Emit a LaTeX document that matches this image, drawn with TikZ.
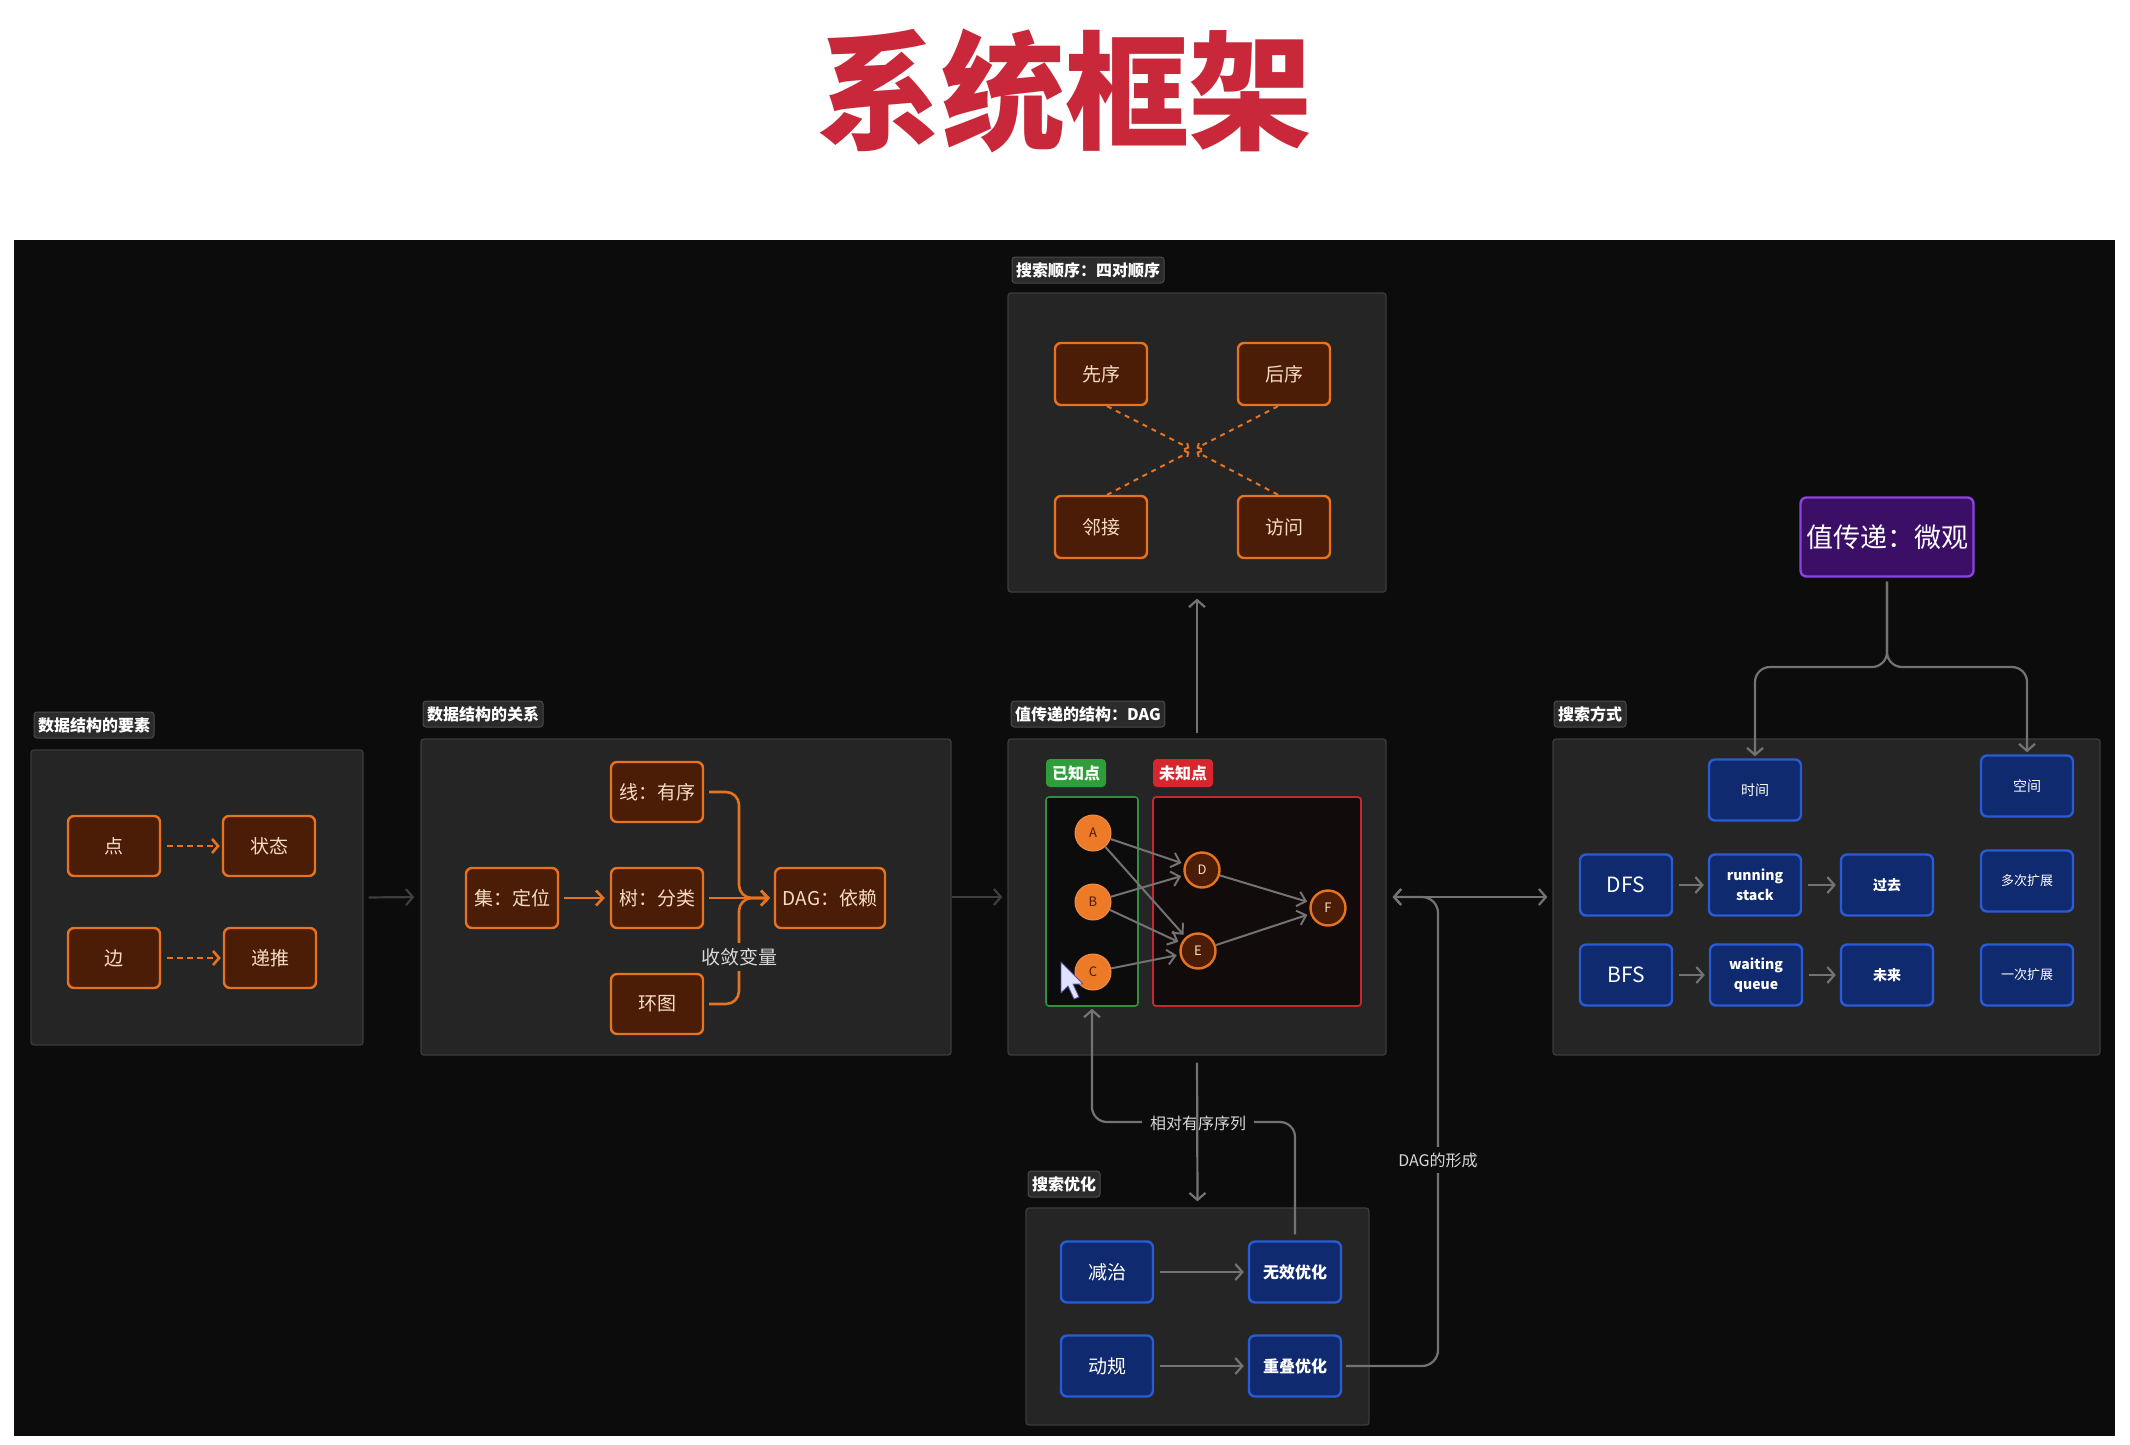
\documentclass[tikz,border=0pt]{standalone}
\usepackage{fontspec}
\setmainfont{Noto Sans CJK SC}
\usetikzlibrary{arrows.meta}
\newcommand\fsz[1]{\fontsize{#1}{#1}\selectfont}
\definecolor{bgblack}{HTML}{0C0C0C}
\definecolor{panelfill}{HTML}{252525}
\definecolor{panelline}{HTML}{3C3C3C}
\definecolor{tagfill}{HTML}{2B2B2B}
\definecolor{tagline}{HTML}{4A4A4A}
\definecolor{oline}{HTML}{E8731E}
\definecolor{ofill}{HTML}{4B1D07}
\definecolor{otext}{HTML}{F7DCC4}
\definecolor{bline}{HTML}{2A5BD7}
\definecolor{bfill}{HTML}{0F2A6E}
\definecolor{pline}{HTML}{8B44E0}
\definecolor{pfill}{HTML}{3B0F66}
\definecolor{conngray}{HTML}{737373}
\definecolor{dimgray}{HTML}{3E3E3E}
\definecolor{titlered}{HTML}{C9283A}
\definecolor{gbadge}{HTML}{2F9E3A}
\definecolor{rbadge}{HTML}{D6262E}
\definecolor{gframe}{HTML}{2F8F3F}
\definecolor{rframe}{HTML}{C9252F}
\definecolor{rboxfill}{HTML}{110B0B}
\definecolor{circfill}{HTML}{EC7A26}
\definecolor{labtext}{HTML}{D8D8D8}
\tikzset{
  panel/.style={draw=panelline, fill=panelfill, line width=1.3pt, rounded corners=3pt, inner sep=0pt},
  tag/.style={draw=tagline, fill=tagfill, text=white, font=\bfseries\fsz{16}, rounded corners=3pt, minimum height=26pt, inner xsep=4pt, inner ysep=2pt, line width=1pt},
  obox/.style={draw=oline, fill=ofill, text=otext, line width=2.4pt, rounded corners=6pt, minimum width=92pt, minimum height=60pt, inner sep=2pt, font=\fsz{19}},
  bbox/.style={draw=bline, fill=bfill, text=white, line width=2.4pt, rounded corners=6pt, minimum width=92pt, minimum height=61pt, inner sep=2pt, align=center},
  badge/.style={rounded corners=4pt, text=white, font=\bfseries\fsz{16}, minimum width=60pt, minimum height=28pt, inner sep=1pt},
  known/.style={circle, fill=circfill, draw=circfill!85!white, line width=1pt, minimum size=36pt, inner sep=0pt, text=ofill, font=\fsz{13}},
  unknown/.style={circle, fill=ofill, draw=oline, line width=2.4pt, minimum size=35pt, inner sep=0pt, text=otext, font=\fsz{13}},
  conn/.style={draw=conngray, line width=2.2pt, -{Straight Barb[length=7pt,width=16pt]}},
  dimconn/.style={draw=dimgray, line width=2.2pt, -{Straight Barb[length=7pt,width=16pt]}},
  oarrow/.style={draw=oline, line width=2.6pt, -{Straight Barb[length=7pt,width=15pt]}},
  odash/.style={draw=oline, line width=2.6pt, dash pattern=on 6pt off 4pt, -{Straight Barb[length=6pt,width=14pt]}},
  xdash/.style={draw=oline, line width=2pt, dash pattern=on 5pt off 5pt, -{Straight Barb[length=3pt,width=7pt]}},
  dagedge/.style={draw=conngray, line width=2pt, -{Straight Barb[length=8pt,width=15pt]}},
  elab/.style={text=labtext, inner xsep=8pt, inner ysep=3pt}
}
\begin{document}
\begin{tikzpicture}[x=1pt,y=-1pt]
\useasboundingbox (0,0) rectangle (2130,1444);
\fill[white] (0,0) rectangle (2130,1444);
\fill[bgblack] (14,240) rectangle (2115,1436);
\node[text=titlered, font=\bfseries\fsz{118}, xscale=1.05, yscale=1.08] (title) at (1065,91) {系统框架};

% ---------- group 1 ----------
\node[panel, minimum width=332pt, minimum height=295pt] (g1) at (197,897.5) {};
\node[tag] (g1t) at (94,725) {数据结构的要素};
\node[obox] (dian) at (114,846) {点};
\node[obox] (zhuangtai) at (269,846) {状态};
\node[obox] (bian) at (114,958) {边};
\node[obox] (ditui) at (270,958) {递推};
\draw[odash, shorten <=6pt, shorten >=2pt] (dian.east) -- (zhuangtai.west);
\draw[odash, shorten <=6pt, shorten >=2pt] (bian.east) -- (ditui.west);

% ---------- group 2 ----------
\node[panel, minimum width=530pt, minimum height=316pt] (g2) at (686,897) {};
\node[tag] (g2t) at (483,714) {数据结构的关系};
\node[obox] (xian) at (657,792) {线：有序};
\node[obox] (ji) at (512,898) {集：定位};
\node[obox] (shu) at (657,898) {树：分类};
\node[obox, minimum width=110pt] (dag) at (830,898) {DAG：依赖};
\node[obox] (huan) at (657,1004) {环图};
\draw[oarrow, shorten <=5pt, shorten >=5pt] (ji.east) -- (shu.west);
\draw[oarrow, shorten <=5pt, shorten >=4pt] (shu.east) -- (dag.west);
\draw[oarrow, rounded corners=13pt, shorten <=5pt, shorten >=4pt] (xian.east) -- (739,792) -- (739,898) -- (dag.west);
\draw[oarrow, rounded corners=13pt, shorten <=5pt, shorten >=4pt] (huan.east) -- (739,1004) -- (739,898) -- (dag.west);
\node[text=labtext, fill=panelfill, font=\fsz{19}, inner xsep=4pt, inner ysep=5pt] (shoulian) at (739,957) {收敛变量};

% ---------- group 4 ----------
\node[panel, minimum width=378pt, minimum height=299pt] (g4) at (1197,442.5) {};
\node[tag] (g4t) at (1088,270) {搜索顺序：四对顺序};
\node[obox, minimum height=62pt] (xianxu) at (1101,374) {先序};
\node[obox, minimum height=62pt] (houxu) at (1284,374) {后序};
\node[obox, minimum height=62pt] (linjie) at (1101,527) {邻接};
\node[obox, minimum height=62pt] (fangwen) at (1284,527) {访问};
\coordinate (xc) at (1193,450);
\draw[xdash, shorten >=4pt] ([xshift=6pt]xianxu.south) -- (xc);
\draw[xdash, shorten >=4pt] ([xshift=6pt]linjie.north) -- (xc);
\draw[xdash, shorten >=4pt] ([xshift=-6pt]houxu.south) -- (xc);
\draw[xdash, shorten >=4pt] ([xshift=-6pt]fangwen.north) -- (xc);

% ---------- group 3 ----------
\node[panel, minimum width=378pt, minimum height=316pt] (g3) at (1197,897) {};
\node[tag] (g3t) at (1088,714) {值传递的结构：DAG};
\node[badge, fill=gbadge] (kb) at (1076,773) {已知点};
\node[badge, fill=rbadge] (ub) at (1183,773) {未知点};
\node[draw=gframe, fill=bgblack, line width=1.6pt, rounded corners=3pt, minimum width=92pt, minimum height=209pt, inner sep=0pt] (kbox) at (1092,901.5) {};
\node[draw=rframe, fill=rboxfill, line width=1.8pt, rounded corners=3pt, minimum width=208pt, minimum height=209pt, inner sep=0pt] (ubox) at (1257,901.5) {};
\node[known] (A) at (1093,833) {A};
\node[known] (B) at (1093,902) {B};
\node[known] (C) at (1093,972) {C};
\node[unknown] (D) at (1202,870) {D};
\node[unknown] (E) at (1198,951) {E};
\node[unknown] (F) at (1328,908) {F};
\draw[dagedge, shorten >=3pt] (A) -- (D);
\draw[dagedge, shorten >=3pt] (A) -- (E);
\draw[dagedge, shorten >=3pt] (B) -- (D);
\draw[dagedge, shorten >=3pt] (B) -- (E);
\draw[dagedge, shorten >=3pt] (C) -- (E);
\draw[dagedge, shorten >=3pt] (D) -- (F);
\draw[dagedge, shorten >=3pt] (E) -- (F);
% mouse cursor
\draw[fill=white!88!blue, draw=blue!35!gray, line width=0.8pt, line join=round] (1061,962) -- (1061,993) -- (1068,986) -- (1074,999) -- (1079,997) -- (1073,984) -- (1083,984) -- cycle;

% ---------- group 5 ----------
\node[panel, minimum width=343pt, minimum height=217pt] (g5) at (1197.5,1316.5) {};
\node[tag] (g5t) at (1064,1184) {搜索优化};
\node[bbox, font=\fsz{19}] (jianzhi) at (1107,1272) {减治};
\node[bbox, font=\bfseries\fsz{16}] (wuxiao) at (1295,1272) {无效优化};
\node[bbox, font=\fsz{19}] (donggui) at (1107,1366) {动规};
\node[bbox, font=\bfseries\fsz{16}] (chongdie) at (1295,1366) {重叠优化};
\draw[conn, shorten <=6pt, shorten >=4pt] (jianzhi.east) -- (wuxiao.west);
\draw[conn, shorten <=6pt, shorten >=4pt] (donggui.east) -- (chongdie.west);

% ---------- group 6 ----------
\node[panel, minimum width=547pt, minimum height=316pt] (g6) at (1826.5,897) {};
\node[tag] (g6t) at (1590,714) {搜索方式};
\node[bbox, font=\fsz{14}] (shijian) at (1755,790) {时间};
\node[bbox, font=\fsz{14}] (kongjian) at (2027,786) {空间};
\node[bbox, font=\fsz{21}] (dfs) at (1626,885) {DFS};
\node[bbox, font=\bfseries\fontsize{14}{20}\selectfont] (rs) at (1755,885) {running\\stack};
\node[bbox, font=\bfseries\fsz{14}] (guoqu) at (1887,885) {过去};
\node[bbox, font=\fsz{13}] (duoci) at (2027,881) {多次扩展};
\node[bbox, font=\fsz{21}] (bfs) at (1626,975) {BFS};
\node[bbox, font=\bfseries\fontsize{14}{20}\selectfont] (wq) at (1756,975) {waiting\\queue};
\node[bbox, font=\bfseries\fsz{14}] (weilai) at (1887,975) {未来};
\node[bbox, font=\fsz{13}] (yici) at (2027,975) {一次扩展};
\draw[conn, shorten <=6pt, shorten >=4pt] (dfs.east) -- (rs.west);
\draw[conn, shorten <=6pt, shorten >=4pt] (rs.east) -- (guoqu.west);
\draw[conn, shorten <=6pt, shorten >=4pt] (bfs.east) -- (wq.west);
\draw[conn, shorten <=6pt, shorten >=4pt] (wq.east) -- (weilai.west);

% purple
\node[draw=pline, fill=pfill, text=white, line width=2.4pt, rounded corners=6pt, minimum width=173pt, minimum height=79pt, font=\fsz{27}] (micro) at (1887,537) {值传递：微观};
\draw[conn, rounded corners=15pt, shorten <=4pt, shorten >=2pt] (micro.south) -- (1887,667) -- (1755,667) -- (shijian.north);
\draw[conn, rounded corners=15pt, shorten <=4pt, shorten >=2pt] (micro.south) -- (1887,667) -- (2027,667) -- (kongjian.north);

% ---------- inter-group connectors ----------
\draw[dimconn, shorten <=5pt, shorten >=6pt] (g1.east) -- (g2.west);
\draw[dimconn, shorten <=0pt, shorten >=5pt] (g2.east) -- (g3.west);
\draw[conn, shorten <=5pt, shorten >=6pt] (g3.north) -- (g4.south);
% relative ordered sequence path
\draw[conn, rounded corners=15pt, shorten <=6pt, shorten >=2pt] (wuxiao.north) -- (1295,1122) -- (1092,1122) -- (kbox.south);
\node[elab, fill=bgblack, font=\fsz{16}] (xiangdui) at (1198,1123) {相对有序序列};
\draw[conn, shorten <=7pt, shorten >=6pt] (g3.south) -- (g5.north);
% DAG formation path
\draw[conn, rounded corners=16pt, shorten <=4pt, shorten >=6pt] (chongdie.east) -- (1438,1366) -- (1438,897) -- (g3.east);
\node[elab, fill=bgblack, font=\fsz{16}, inner ysep=6pt] (dagform) at (1438,1160) {DAG的形成};
\draw[draw=conngray, line width=2.2pt, {Straight Barb[length=7pt,width=16pt]}-{Straight Barb[length=7pt,width=16pt]}, shorten <=6pt, shorten >=5pt] (g3.east) -- (g6.west);
\end{tikzpicture}
\end{document}
